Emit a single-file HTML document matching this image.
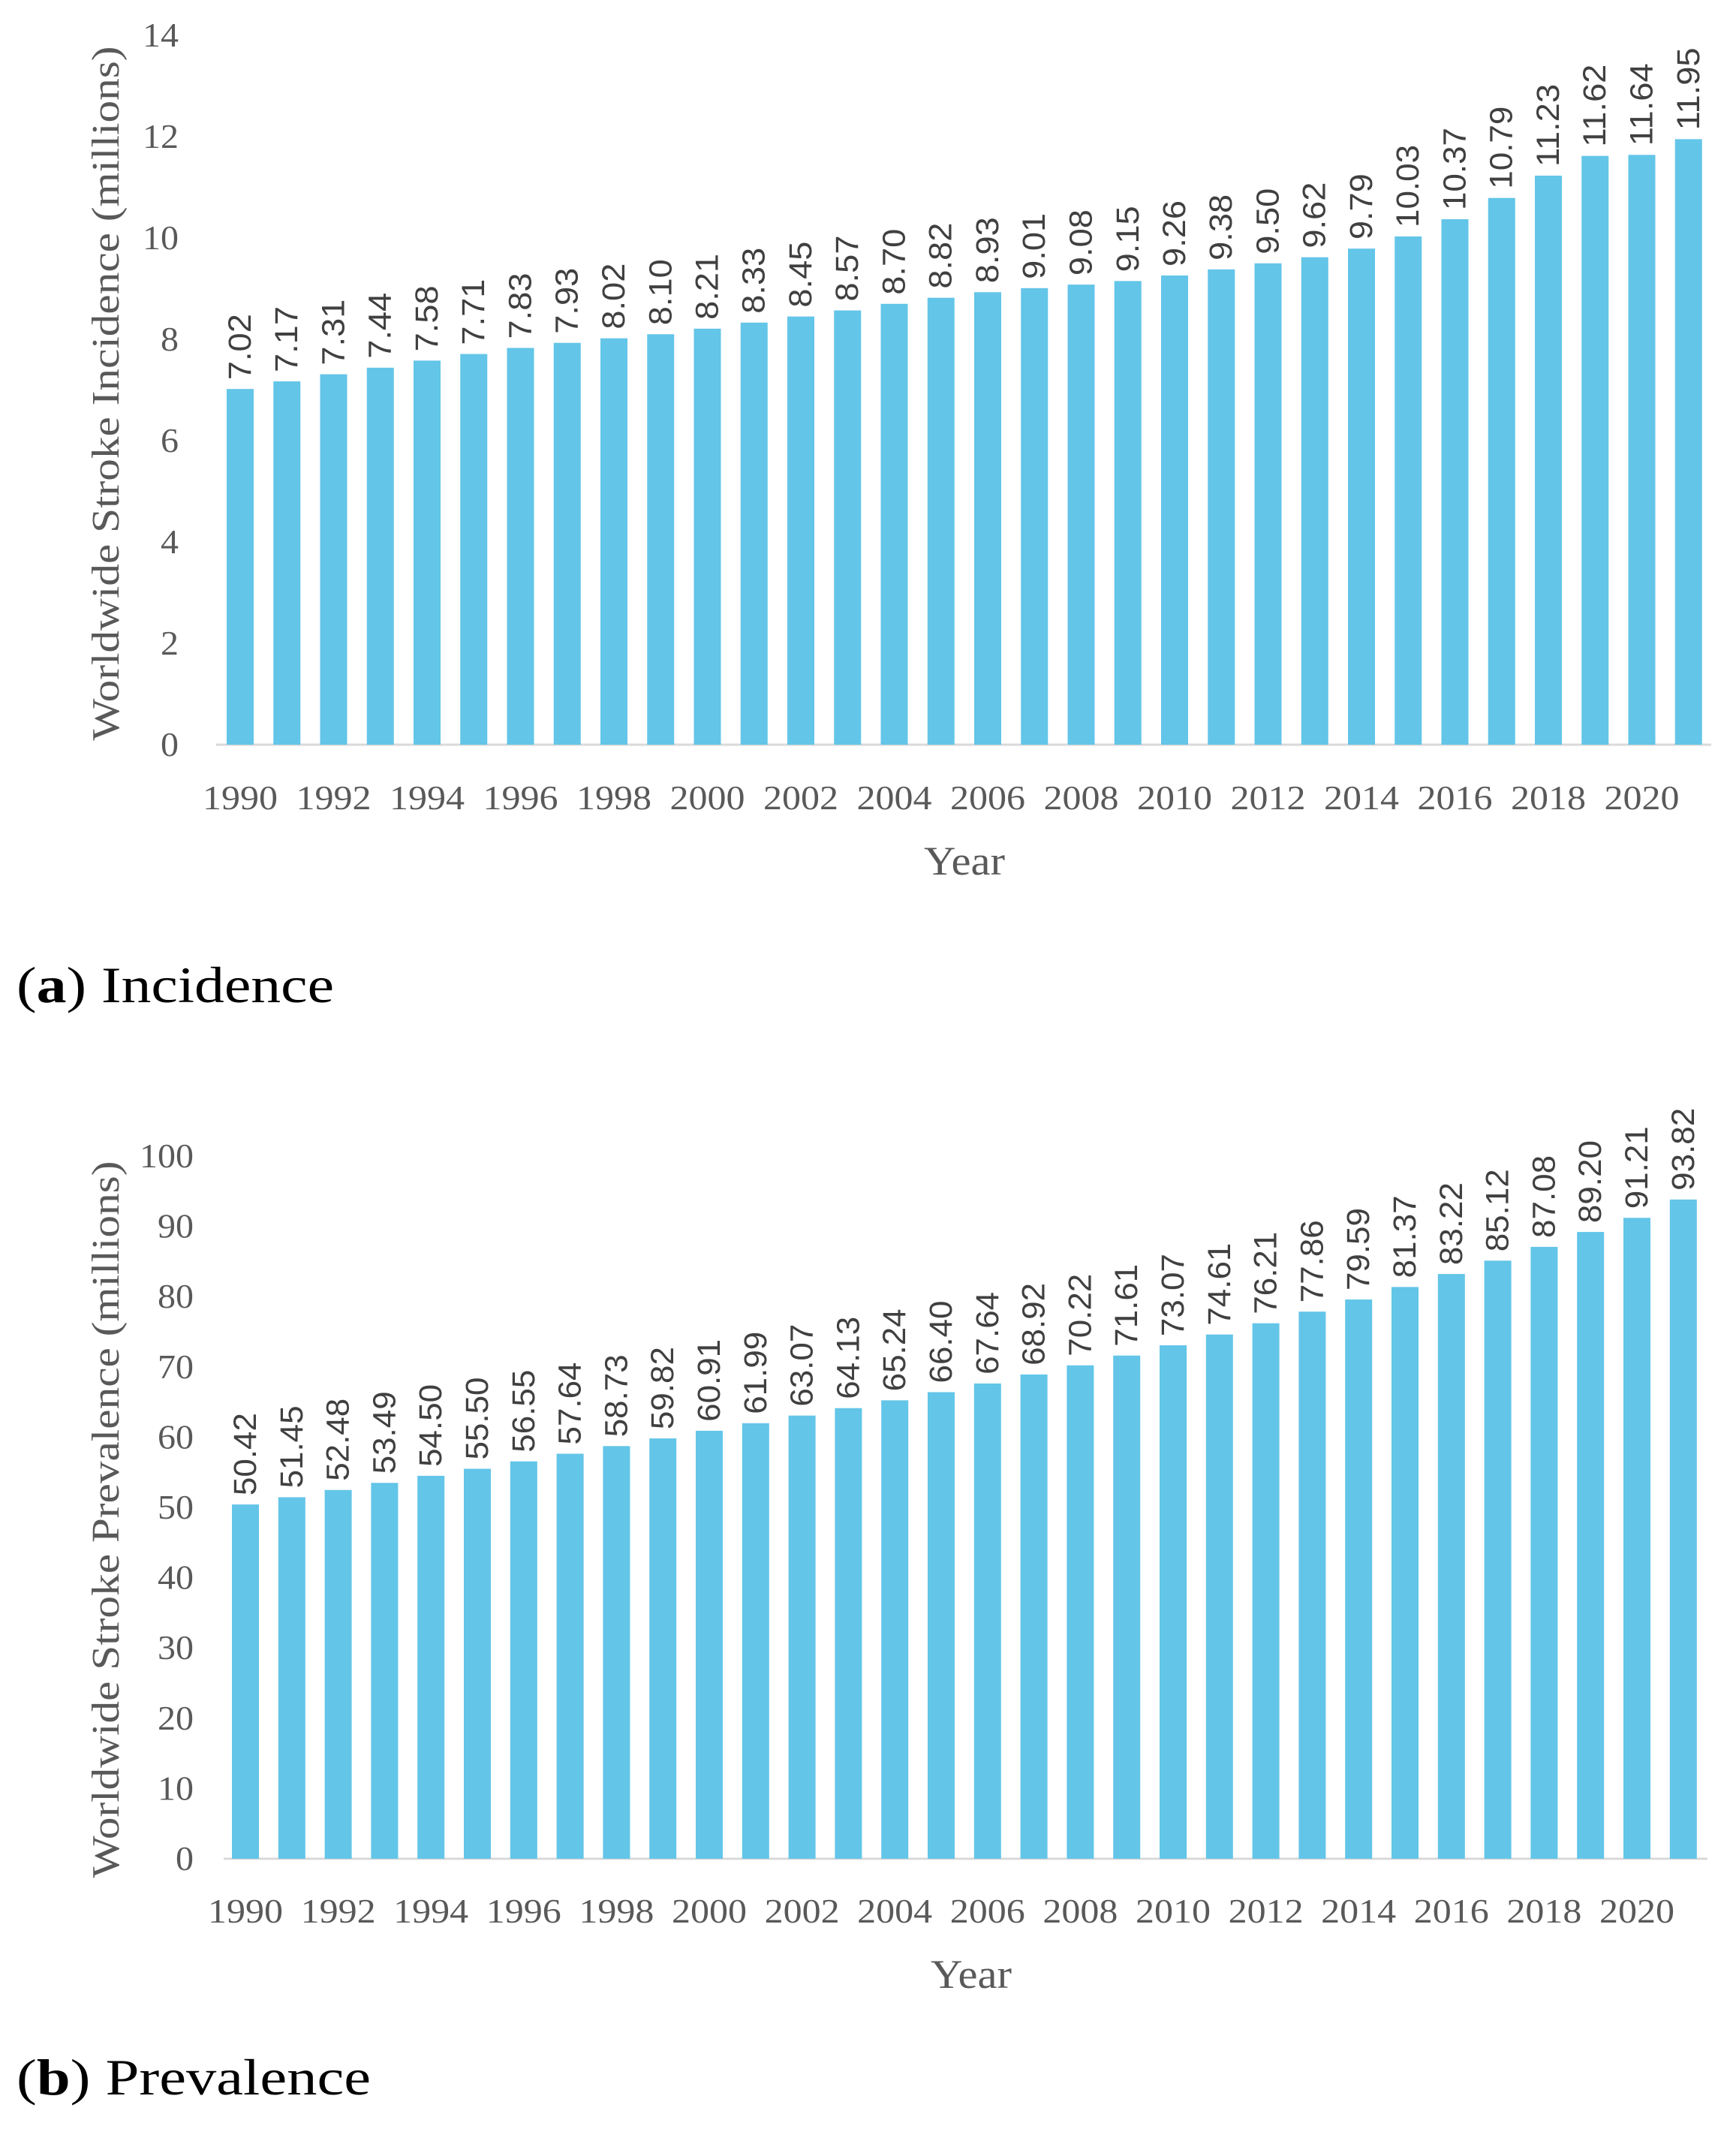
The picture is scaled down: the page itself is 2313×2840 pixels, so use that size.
<!DOCTYPE html>
<html><head><meta charset="utf-8"><style>
html,body{margin:0;padding:0;background:#fff;}
svg{display:block;}
</style></head><body>
<svg id="svg" width="2313" height="2840" viewBox="0 0 2313 2840" xmlns="http://www.w3.org/2000/svg">
<g id="c1"></g>
<g id="c2"></g>
<text x="22" y="1335" font-family="Liberation Serif, serif" font-size="68" fill="#000" textLength="423" lengthAdjust="spacingAndGlyphs">(<tspan font-weight="bold">a</tspan>) Incidence</text>
<text x="22" y="2790" font-family="Liberation Serif, serif" font-size="68" fill="#000" textLength="472" lengthAdjust="spacingAndGlyphs">(<tspan font-weight="bold">b</tspan>) Prevalence</text>
</svg>
<script>
const years = [1990,1991,1992,1993,1994,1995,1996,1997,1998,1999,2000,2001,2002,2003,2004,2005,2006,2007,2008,2009,2010,2011,2012,2013,2014,2015,2016,2017,2018,2019,2020,2021];
const incidence = [7.02,7.17,7.31,7.44,7.58,7.71,7.83,7.93,8.02,8.10,8.21,8.33,8.45,8.57,8.70,8.82,8.93,9.01,9.08,9.15,9.26,9.38,9.50,9.62,9.79,10.03,10.37,10.79,11.23,11.62,11.64,11.95];
const prevalence = [50.42,51.45,52.48,53.49,54.50,55.50,56.55,57.64,58.73,59.82,60.91,61.99,63.07,64.13,65.24,66.40,67.64,68.92,70.22,71.61,73.07,74.61,76.21,77.86,79.59,81.37,83.22,85.12,87.08,89.20,91.21,93.82];
const incTicks = [0,2,4,6,8,10,12,14];
const prevTicks = [0,10,20,30,40,50,60,70,80,90,100];
const xTickYears = [1990,1992,1994,1996,1998,2000,2002,2004,2006,2008,2010,2012,2014,2016,2018,2020];

const NS = "http://www.w3.org/2000/svg";
function mk(parent, tag, attrs, txt){
  const e = document.createElementNS(NS, tag);
  for (const k in attrs) e.setAttribute(k, attrs[k]);
  if (txt !== undefined) e.textContent = txt;
  parent.appendChild(e);
  return e;
}

function drawChart(g, vals, ticks, cfg){
  const y = v => cfg.y0 - (v - ticks[0]) / (ticks[ticks.length-1] - ticks[0]) * (cfg.y0 - cfg.yTop);
  const x = i => cfg.x0 + i * cfg.step;
  const axis = mk(g, 'line', {x1: cfg.axL, x2: cfg.axR, y1: cfg.y0, y2: cfg.y0, stroke: '#D9D9D9', 'stroke-width': 3});
  
  
  ticks.forEach(t => {
    const s = String(t);
    const tl = mk(g, 'text', {x: cfg.tickX, y: y(t) + 15, 'text-anchor': 'end', 'font-family': 'Liberation Serif, serif', 'font-size': 46, fill: '#595959', textLength: s.length * 24, lengthAdjust: 'spacingAndGlyphs'}, s);
    
    
  });
  vals.forEach((v, i) => {
    const bw = 36;
    const r = mk(g, 'rect', {x: x(i) - bw/2, y: y(v), width: bw, height: cfg.y0 - y(v), fill: '#63C5E8'});
    
    
    const s = v.toFixed(2);
    const lx = x(i) + 14, ly = y(v) - 12;
    const lab = mk(g, 'text', {x: lx, y: ly, transform: 'rotate(-90 ' + lx + ' ' + ly + ')', 'font-family': 'Liberation Sans Narrow, Liberation Sans, sans-serif', 'font-size': 43, fill: '#404040', 'text-anchor': 'start', textLength: s.length * 22, lengthAdjust: 'spacingAndGlyphs'}, s);
    
    
  });
  xTickYears.forEach(yr => {
    const i = years.indexOf(yr);
    const xl = mk(g, 'text', {x: x(i), y: cfg.xTickY, 'text-anchor': 'middle', 'font-family': 'Liberation Serif, serif', 'font-size': 46, fill: '#595959', textLength: 100, lengthAdjust: 'spacingAndGlyphs'}, String(yr));
    
    
  });
  const xt = mk(g, 'text', {x: cfg.xTitleX, y: cfg.xTitleY, 'text-anchor': 'middle', 'font-family': 'Liberation Serif, serif', 'font-size': 54, fill: '#595959', textLength: 108, lengthAdjust: 'spacingAndGlyphs'}, 'Year');
  
  
  const yt = mk(g, 'text', {x: 158, y: cfg.yTitleC, transform: 'rotate(-90 158 ' + cfg.yTitleC + ')', 'text-anchor': 'middle', 'font-family': 'Liberation Serif, serif', 'font-size': 52, fill: '#595959', textLength: cfg.yTitleLen, lengthAdjust: 'spacingAndGlyphs'}, cfg.yTitle);
  
  
}

drawChart(document.getElementById('c1'), incidence, incTicks, {
  y0: 992, yTop: 47, x0: 320, step: 62.25, axL: 288, axR: 2280, tickX: 238,
  xTickY: 1078, xTitleX: 1285, xTitleY: 1165, yTitleC: 524, yTitleLen: 925,
  yTitle: 'Worldwide Stroke Incidence (millions)'
});
drawChart(document.getElementById('c2'), prevalence, prevTicks, {
  y0: 2476, yTop: 1540, x0: 327, step: 61.8, axL: 298, axR: 2275, tickX: 258,
  xTickY: 2561, xTitleX: 1294, xTitleY: 2648, yTitleC: 2024, yTitleLen: 955,
  yTitle: 'Worldwide Stroke Prevalence (millions)'
});
</script>
</body></html>
